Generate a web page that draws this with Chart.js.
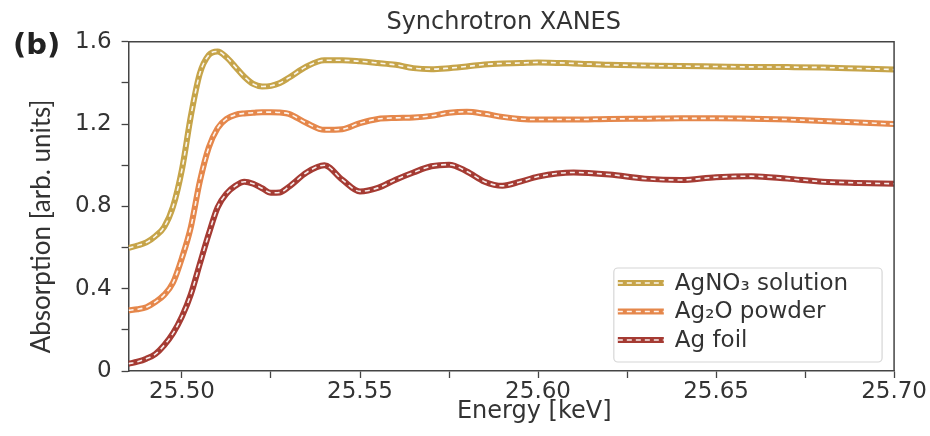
<!DOCTYPE html>
<html>
<head>
<meta charset="utf-8">
<title>Synchrotron XANES</title>
<script src="https://cdn.jsdelivr.net/npm/chart.js@4/dist/chart.umd.min.js"></script>
<style>
  html, body { margin: 0; padding: 0; background: #ffffff; }
  #wrap { width: 930px; height: 436px; position: relative; }
</style>
</head>
<body>
<div id="wrap"><canvas id="xanes" width="930" height="436"></canvas></div>
<script>
// Photon energy grid (keV)
const energy = [
  25.485, 25.4875, 25.490, 25.4925, 25.495, 25.4975, 25.500, 25.5025, 25.505, 25.5075,
  25.510, 25.5125, 25.515, 25.5175, 25.520, 25.5225, 25.525, 25.5275, 25.530, 25.535,
  25.540, 25.545, 25.550, 25.555, 25.560, 25.565, 25.570, 25.575, 25.580, 25.585,
  25.590, 25.595, 25.600, 25.610, 25.620, 25.630, 25.640, 25.650, 25.660, 25.670,
  25.680, 25.690, 25.700
];

// Absorption (arb. units), vertically offset spectra
const agno3Solution = [
  0.598, 0.610, 0.625, 0.655, 0.700, 0.800, 0.980, 1.240, 1.445, 1.535,
  1.553, 1.525, 1.478, 1.430, 1.395, 1.383, 1.386, 1.400, 1.425, 1.480,
  1.510, 1.510, 1.505, 1.497, 1.488, 1.472, 1.467, 1.472, 1.480, 1.490,
  1.495, 1.497, 1.500, 1.495, 1.488, 1.485, 1.482, 1.480, 1.478, 1.477,
  1.475, 1.470, 1.465
];
const ag2oPowder = [
  0.295, 0.300, 0.310, 0.335, 0.370, 0.430, 0.550, 0.700, 0.920, 1.085,
  1.180, 1.225, 1.245, 1.252, 1.255, 1.258, 1.258, 1.256, 1.250, 1.205,
  1.172, 1.175, 1.205, 1.225, 1.230, 1.232, 1.240, 1.255, 1.260, 1.250,
  1.235, 1.225, 1.222, 1.222, 1.225, 1.226, 1.228, 1.228, 1.226, 1.222,
  1.215, 1.208, 1.200
];
const agFoil = [
  0.035, 0.045, 0.060, 0.082, 0.125, 0.184, 0.265, 0.373, 0.520, 0.665,
  0.795, 0.862, 0.900, 0.920, 0.910, 0.888, 0.866, 0.868, 0.895, 0.965,
  1.000, 0.930, 0.873, 0.890, 0.930, 0.965, 0.995, 1.003, 0.970, 0.920,
  0.900, 0.920, 0.945, 0.965, 0.955, 0.935, 0.928, 0.942, 0.947, 0.935,
  0.920, 0.914, 0.910
];

const seriesLabels = ['AgNO\u2083 solution', 'Ag\u2082O powder', 'Ag foil'];
const seriesColors = ['#c6a449', '#e5874b', '#a53b33'];

// Axis ticks: labelled majors plus unlabelled minors
const xMajorTicks = [25.50, 25.55, 25.60, 25.65, 25.70];
const xMinorTicks = [25.525, 25.575, 25.625, 25.675];
const yMajorTicks = [0, 0.4, 0.8, 1.2, 1.6];
const yMinorTicks = [0.2, 0.6, 1.0, 1.4];

const FONT = 'DejaVu Sans';
const INK = '#333333';
const AXIS = '#444444';
const TRACE_W = 6;
const DASH_W = 1.6;
const DASH = [5, 4];

const seriesValues = [agno3Solution, ag2oPowder, agFoil];
const toPoints = vals => energy.map((e, i) => ({ x: e, y: vals[i] }));

const datasets = [];
seriesValues.forEach((vals, i) => {
  // thick coloured trace
  datasets.push({
    label: seriesLabels[i],
    data: toPoints(vals),
    borderColor: seriesColors[i],
    borderWidth: TRACE_W,
    pointRadius: 0,
    cubicInterpolationMode: 'monotone',
    order: 2
  });
  // white dashed centre line on top of the trace
  datasets.push({
    label: seriesLabels[i] + ' dash',
    isDash: true,
    data: toPoints(vals),
    borderColor: 'rgba(255,255,255,0.9)',
    borderWidth: DASH_W,
    borderDash: DASH,
    pointRadius: 0,
    cubicInterpolationMode: 'monotone',
    order: 1
  });
});

const tickSet = (majors, minors) => majors.concat(minors).sort((a, b) => a - b).map(v => ({ value: v }));
const isMajor = (majors, v) => majors.some(m => Math.abs(m - v) < 1e-9);

// Frame on the top and right sides of the plot area
const frameBox = {
  id: 'frameBox',
  afterDatasetsDraw(chart) {
    const { ctx, chartArea: a } = chart;
    ctx.save();
    ctx.strokeStyle = AXIS;
    ctx.lineWidth = 1.5;
    ctx.beginPath();
    ctx.moveTo(a.left, a.top);
    ctx.lineTo(a.right, a.top);
    ctx.lineTo(a.right, a.bottom);
    ctx.stroke();
    ctx.restore();
  }
};

// Boxed legend in the lower right corner of the plot area
const cornerLegend = {
  id: 'cornerLegend',
  afterDraw(chart) {
    const { ctx, chartArea: a } = chart;
    const items = chart.data.datasets.filter(d => !d.isDash);
    ctx.save();
    ctx.font = '23px "' + FONT + '"';
    const textW = Math.max(...items.map(d => ctx.measureText(d.label).width));
    const right = a.right - 12, bottom = a.bottom - 9;
    const w = 61 + textW + 34, h = 94;
    const left = right - w, top = bottom - h;
    ctx.fillStyle = 'rgba(255,255,255,0.9)';
    ctx.strokeStyle = '#d6d6d6';
    ctx.lineWidth = 1.2;
    ctx.beginPath();
    ctx.roundRect(left, top, w, h, 4);
    ctx.fill();
    ctx.stroke();
    items.forEach((d, i) => {
      const y = top + 15 + i * 28.5;
      ctx.lineCap = 'butt';
      ctx.setLineDash([]);
      ctx.strokeStyle = d.borderColor;
      ctx.lineWidth = TRACE_W;
      ctx.beginPath(); ctx.moveTo(left + 4, y); ctx.lineTo(left + 50, y); ctx.stroke();
      ctx.setLineDash(DASH);
      ctx.strokeStyle = 'rgba(255,255,255,0.9)';
      ctx.lineWidth = DASH_W;
      ctx.beginPath(); ctx.moveTo(left + 4, y); ctx.lineTo(left + 50, y); ctx.stroke();
      ctx.setLineDash([]);
      ctx.fillStyle = INK;
      ctx.textAlign = 'left';
      ctx.textBaseline = 'middle';
      ctx.fillText(d.label, left + 61, y + 1);
    });
    ctx.restore();
  }
};

// Panel letter
const panelTag = {
  id: 'panelTag',
  afterDraw(chart) {
    const { ctx } = chart;
    ctx.save();
    ctx.font = 'bold 29px "' + FONT + '"';
    ctx.fillStyle = '#222222';
    ctx.textAlign = 'left';
    ctx.textBaseline = 'alphabetic';
    ctx.fillText('(b)', 13, 54);
    ctx.restore();
  }
};

new Chart(document.getElementById('xanes'), {
  type: 'line',
  data: { datasets },
  plugins: [frameBox, cornerLegend, panelTag],
  options: {
    responsive: false,
    animation: false,
    layout: { padding: { left: 29, right: 35, top: 0, bottom: 0 } },
    plugins: {
      legend: { display: false },
      tooltip: { enabled: false },
      title: {
        display: true,
        text: 'Synchrotron XANES  ',
        fullSize: false,
        color: INK,
        font: { family: FONT, size: 24, weight: 'normal', lineHeight: 1.2 },
        padding: { top: 8, bottom: 5 }
      }
    },
    scales: {
      x: {
        type: 'linear',
        min: 25.485,
        max: 25.70,
        afterBuildTicks: s => { s.ticks = tickSet(xMajorTicks, xMinorTicks); },
        ticks: {
          autoSkip: false,
          maxRotation: 0,
          color: INK,
          padding: 3,
          font: { family: FONT, size: 23, lineHeight: 1.0 },
          callback: v => isMajor(xMajorTicks, v) ? v.toFixed(2) : ''
        },
        grid: { drawOnChartArea: false, drawTicks: true, tickLength: 7, tickColor: AXIS, tickWidth: 1.3 },
        border: { color: AXIS, width: 1.5 },
        title: {
          display: true,
          text: '      Energy [keV]',
          color: INK,
          font: { family: FONT, size: 24, lineHeight: 1.0 },
          padding: { top: -7, bottom: 12 }
        }
      },
      y: {
        type: 'linear',
        min: 0,
        max: 1.6,
        afterBuildTicks: s => { s.ticks = tickSet(yMajorTicks, yMinorTicks); },
        ticks: {
          autoSkip: false,
          color: INK,
          padding: 10,
          font: { family: FONT, size: 23, lineHeight: 1.0 },
          callback: v => isMajor(yMajorTicks, v) ? (v === 0 ? '0' : v.toFixed(1)) : ''
        },
        grid: { drawOnChartArea: false, drawTicks: true, tickLength: 7, tickColor: AXIS, tickWidth: 1.3 },
        border: { color: AXIS, width: 1.5 },
        title: {
          display: true,
          text: 'Absorption [arb. units]      ',
          color: INK,
          font: { family: 'Lato', size: 26, lineHeight: 1.0 },
          padding: { top: 0, bottom: 10 }
        }
      }
    }
  }
});
</script>
</body>
</html>
